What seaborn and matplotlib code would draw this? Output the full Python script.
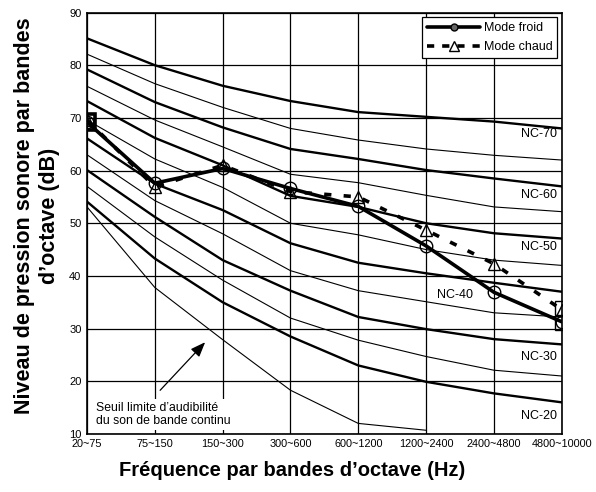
import numpy as np
import pandas as pd
import matplotlib
matplotlib.use("Agg")
import matplotlib.pyplot as plt
from matplotlib.lines import Line2D
import seaborn as sns

# --- Bandes d'octave (axe x) ---
bandes = ["20~75", "75~150", "150~300", "300~600", "600~1200",
          "1200~2400", "2400~4800", "4800~10000"]

# --- Courbes NC ---
nc_70 = [85.1, 80.0, 76.1, 73.2, 71.1, 70.2, 69.3, 68.0]
nc_65 = [82.1, 76.5, 72.0, 68.0, 65.8, 64.1, 62.9, 62.0]
nc_60 = [79.2, 73.0, 68.2, 64.1, 62.2, 60.1, 58.5, 57.0]
nc_55 = [76.0, 69.6, 64.5, 59.3, 57.7, 55.3, 53.1, 52.2]
nc_50 = [73.2, 66.2, 61.0, 55.2, 53.1, 50.0, 48.1, 47.1]
nc_45 = [69.6, 62.2, 56.8, 50.0, 47.8, 45.0, 43.0, 42.0]
nc_40 = [66.1, 57.5, 52.5, 46.2, 42.5, 40.5, 38.7, 37.0]
nc_35 = [63.0, 54.3, 48.0, 41.0, 37.2, 35.1, 33.0, 32.2]
nc_30 = [60.1, 51.2, 43.0, 37.2, 32.2, 29.9, 28.0, 27.0]
nc_25 = [57.0, 47.4, 39.2, 32.0, 27.8, 24.7, 22.1, 21.0]
nc_20 = [54.1, 43.3, 35.0, 28.5, 23.0, 19.9, 17.7, 16.0]
seuil = [53.1, 37.8, 27.9, 18.3, 12.0, 10.7]   # seuil d'audibilite (6 bandes)

courbes_epaisses = {"NC-70": nc_70, "NC-60": nc_60, "NC-50": nc_50,
                    "NC-40": nc_40, "NC-30": nc_30, "NC-20": nc_20}
courbes_fines = {"NC-65": nc_65, "NC-55": nc_55, "NC-45": nc_45,
                 "NC-35": nc_35, "NC-25": nc_25}

# --- Mesures ---
mode_froid = [69.2, 57.6, 60.4, 56.6, 53.2, 45.7, 36.9, 31.3]
mode_chaud = [69.6, 56.9, 61.0, 56.0, 55.0, 48.7, 42.3, 33.6]

sns.set_style("white")
plt.rcParams["font.family"] = ["Liberation Sans", "DejaVu Sans"]
plt.rcParams["text.color"] = "black"
plt.rcParams["axes.labelcolor"] = "black"
plt.rcParams["xtick.color"] = "black"
plt.rcParams["ytick.color"] = "black"

fig = plt.figure(figsize=(5.96, 4.92), dpi=100)
ax = fig.add_axes([0.146, 0.118, 0.7965, 0.8565])

pos = np.arange(len(bandes))

for nom, val in courbes_fines.items():
    sns.lineplot(x=pos, y=val, ax=ax, color="black", linewidth=0.8, zorder=2)
for nom, val in courbes_epaisses.items():
    sns.lineplot(x=pos, y=val, ax=ax, color="black", linewidth=1.7, zorder=2)
sns.lineplot(x=pos[:len(seuil)], y=seuil, ax=ax, color="black", linewidth=0.8, zorder=2)

# --- Mesures (froid / chaud) ---
tirets = (0, (2.0, 3.4))
ax.plot(pos, mode_chaud, color="black", linewidth=2.6, linestyle=tirets,
        marker="^", markersize=8.5, markerfacecolor="none", markeredgecolor="black",
        markeredgewidth=1.0, zorder=5)
ax.plot(pos, mode_froid, color="black", linewidth=2.6, linestyle="-",
        marker="o", markersize=9, markerfacecolor="none", markeredgecolor="black",
        markeredgewidth=1.0, zorder=6)

# carres aux extremites
ax.plot([pos[0]], [mode_froid[0]], marker="s", markersize=11, markerfacecolor="none",
        markeredgecolor="black", markeredgewidth=2.6, linestyle="none", zorder=7)
ax.plot([pos[-1], pos[-1]], [mode_froid[-1] - 0.3, mode_chaud[-1] + 0.3], marker="s",
        markersize=10, markerfacecolor="none", markeredgecolor="black",
        markeredgewidth=1.0, linestyle="none", zorder=7)

# --- Etiquettes NC ---
kw = dict(fontsize=9, color="black", zorder=4)
ax.text(6.93, 66.9, "NC-70", ha="right", va="center", **kw)
ax.text(6.93, 55.3, "NC-60", ha="right", va="center", **kw)
ax.text(6.93, 45.5, "NC-50", ha="right", va="center", **kw)
ax.text(5.43, 36.3, "NC-40", ha="center", va="center", **kw)
ax.text(6.93, 24.6, "NC-30", ha="right", va="center", **kw)
ax.text(6.93, 13.5, "NC-20", ha="right", va="center", **kw)

# --- Annotation seuil ---
ax.text(0.13, 13.7, "Seuil limite d\u2019audibilit\u00e9\ndu son de bande continu",
        fontsize=8.8, ha="left", va="center", linespacing=1.2, zorder=8,
        bbox=dict(facecolor="white", edgecolor="none", pad=2.0))
ax.annotate("", xy=(1.77, 27.8), xytext=(1.05, 17.9),
            arrowprops=dict(arrowstyle="-|>,head_length=0.9,head_width=0.35",
                            color="black", lw=0.9), zorder=8)

# --- Axes ---
ax.set_xlim(0, 7)
ax.set_ylim(10, 90)
ax.set_xticks(pos)
ax.set_xticklabels(bandes, fontsize=7.8)
ax.set_yticks(np.arange(10, 91, 10))
ax.set_yticks(np.arange(10, 91, 2), minor=True)
ax.tick_params(axis="y", labelsize=8)
ax.tick_params(which="both", direction="in", length=3, width=0.8, color="black", pad=4)
ax.tick_params(axis="x", pad=4)
ax.grid(True, which="major", color="black", linewidth=0.9)
ax.set_axisbelow(True)
for sp in ax.spines.values():
    sp.set_color("black")
    sp.set_linewidth(1.2)
ax.set_xlabel("")
ax.set_ylabel("")

# --- Legende ---
h_froid = Line2D([], [], color="black", linewidth=2.6, marker="o", markersize=5,
                 markerfacecolor="0.4", markeredgecolor="black")
h_chaud = Line2D([], [], color="black", linewidth=2.6, linestyle=(0, (2.0, 2.2)),
                 marker="^", markersize=7, markerfacecolor="white",
                 markeredgecolor="black", markeredgewidth=1.0)
leg = ax.legend(handles=[h_froid, h_chaud], labels=["Mode froid", "Mode chaud"],
                loc="upper right", fontsize=9,
                frameon=True, fancybox=False, edgecolor="black", framealpha=1,
                handlelength=4.2, borderaxespad=0.35, labelspacing=0.6,
                borderpad=0.4, handletextpad=0.3)
leg.get_frame().set_linewidth(0.9)
leg.set_zorder(10)

fig.text(0.49, 1 - 470 / 492, "Fr\u00e9quence par bandes d\u2019octave (Hz)",
         fontsize=14.5, fontweight="bold", ha="center", va="center")
fig.text(0.062, 1 - 216 / 492, "Niveau de pression sonore par bandes\nd\u2019octave (dB)",
         fontsize=15.5, fontweight="bold", ha="center", va="center",
         rotation=90, multialignment="center", linespacing=1.3)

fig.savefig("out.png", dpi=100)
